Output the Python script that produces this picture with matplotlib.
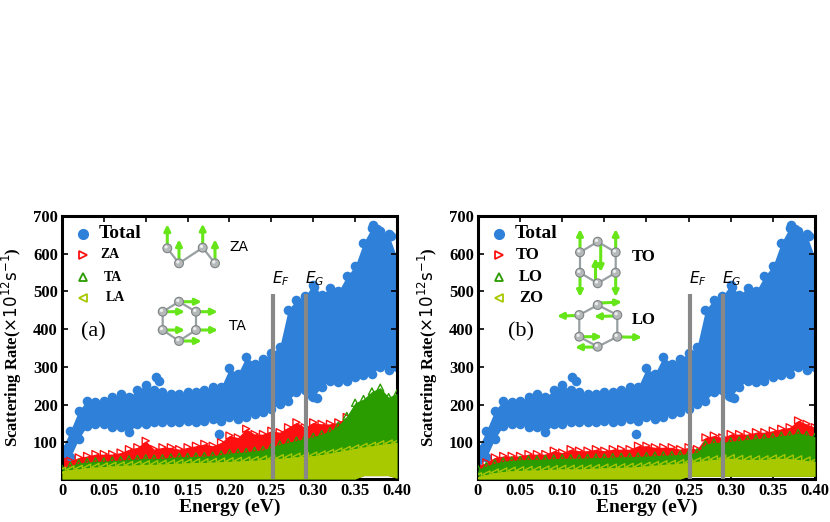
import matplotlib
matplotlib.use("Agg")
import matplotlib.pyplot as plt
from matplotlib.patches import Circle
import numpy as np

plt.rcParams['font.family'] = ['Liberation Serif', 'DejaVu Serif']
plt.rcParams['mathtext.fontset'] = 'custom'
plt.rcParams['mathtext.rm'] = 'DejaVu Sans:normal'
plt.rcParams['mathtext.it'] = 'DejaVu Sans:italic:normal'
plt.rcParams['mathtext.bf'] = 'DejaVu Sans:bold'

energy = np.round(np.arange(0, 0.401, 0.01), 2)

# total scattering rate: upper / lower edge of the cloud (same in both panels)
total_hi = [82, 131, 184, 211, 207, 211, 220, 229, 220, 238, 251, 238, 233, 229, 229, 233, 233, 238, 247, 247,
            296, 282, 327, 309, 322, 336, 353, 451, 478, 487, 518, 491, 509, 500, 540, 567, 629, 669, 660, 651, 589]
total_lo = [33, 60, 109, 144, 149, 149, 140, 140, 127, 149, 149, 153, 153, 153, 153, 158, 153, 158, 162, 158,
            167, 162, 167, 176, 180, 189, 202, 211, 233, 238, 220, 247, 264, 260, 264, 273, 278, 282, 300, 291, 300]
total_out_x = [0.112, 0.116, 0.188, 0.298, 0.304, 0.301, 0.371, 0.376, 0.393]
total_out_y = [273, 262, 123, 222, 218, 512, 675, 665, 648]

# panel (a): acoustic modes
za_hi = [56, 51, 60, 64, 69, 69, 69, 73, 82, 87, 104, 82, 87, 87, 82, 87, 91, 96, 91, 100,
         118, 113, 136, 122, 122, 131, 127, 140, 153, 140, 153, 149, 149, 153, 167, 158, 176, 176, 167, 162, 158]
ta_hi = [30, 38, 45, 48, 50, 50, 52, 53, 55, 56, 58, 57, 58, 60, 62, 62, 63, 64, 65, 68,
         72, 73, 75, 78, 80, 88, 95, 100, 105, 110, 115, 122, 130, 145, 170, 205, 215, 235, 245, 220, 230]
la_hi = [25, 28, 30, 33, 35, 36, 38, 39, 40, 41, 42, 42, 43, 44, 45, 46, 47, 47, 48, 49,
         50, 51, 52, 53, 55, 56, 58, 60, 62, 63, 65, 68, 72, 76, 80, 84, 88, 91, 95, 97, 100]
floor_a = [3] * 36 + [12, 12, 12, 12, 5]

# panel (b): optical modes
to_hi = [38, 47, 60, 64, 64, 64, 69, 69, 69, 78, 73, 82, 78, 78, 82, 78, 82, 82, 82, 91,
         91, 87, 87, 87, 82, 87, 82, 113, 118, 113, 122, 122, 122, 127, 127, 131, 136, 140, 158, 149, 140]
lo_hi = [29, 38, 45, 50, 52, 54, 55, 55, 56, 57, 58, 58, 58, 59, 60, 60, 61, 62, 62, 63,
         64, 65, 66, 67, 68, 70, 74, 95, 100, 100, 103, 105, 108, 110, 112, 114, 118, 120, 125, 120, 115]
zo_hi = [10, 15, 20, 23, 25, 26, 27, 27, 28, 29, 30, 30, 30, 31, 32, 33, 33, 34, 35, 36,
         38, 40, 42, 43, 45, 47, 50, 53, 55, 57, 58, 56, 55, 55, 55, 57, 58, 57, 55, 52, 50]
floor_b = [3] * 25 + [10] * 16

e_fermi = 0.252
e_gap = 0.291
line_top = 493

BLUE = '#2e80d8'
RED = '#ff1010'
GREEN = '#2a9c00'
YELLOW = '#a8c800'
ARROW = '#66e619'

fig = plt.figure(figsize=(8.3, 5.22), dpi=100)
ax_a = fig.add_axes([0.0747, 0.0824, 0.4036, 0.5038])
ax_b = fig.add_axes([0.5759, 0.0824, 0.406, 0.5038])

markers = ['>', '^', '<']
colors = [RED, GREEN, YELLOW]


def draw_panel(ax, series, floor):
    ax.fill_between(energy, total_lo, total_hi, color=BLUE, lw=0, zorder=1)
    ax.scatter(energy, total_hi, s=48, color=BLUE, lw=0, zorder=1)
    ax.scatter(energy, total_lo, s=48, color=BLUE, lw=0, zorder=1)
    ax.scatter(total_out_x, total_out_y, s=48, color=BLUE, lw=0, zorder=1)
    for k, (hi, m, c) in enumerate(zip(series, markers, colors)):
        ax.fill_between(energy, floor, hi, color=c, lw=0, zorder=2 + k)
        ax.scatter(energy, hi, s=26, marker=m, facecolors='none', edgecolors=c, lw=1, zorder=2 + k)

    ax.vlines([e_fermi, e_gap], 0, line_top, color='#888888', lw=3, zorder=6)
    ax.text(e_fermi - 0.001, 510, '$E_F$', fontsize=11, ha='left', va='bottom')
    ax.text(e_gap - 0.001, 510, '$E_G$', fontsize=11, ha='left', va='bottom')

    ax.set_xlim(0, 0.40)
    ax.set_ylim(3, 700)
    ax.set_xticks(np.arange(0, 0.41, 0.05))
    ax.set_xticklabels(['0'] + ['%.2f' % v for v in np.arange(0.05, 0.41, 0.05)])
    ax.set_yticks(range(100, 701, 100))
    ax.tick_params(direction='in', top=True, right=True, length=4, width=1.2, labelsize=12, pad=3)
    for lab in ax.get_xticklabels() + ax.get_yticklabels():
        lab.set_fontweight('bold')
    for sp in ax.spines.values():
        sp.set_linewidth(2.2)
    ax.set_xlabel('Energy (eV)', fontsize=14, fontweight='bold', labelpad=0)
    ax.set_ylabel(r'Scattering Rate($\times10^{12}\mathrm{s}^{-1}$)', fontsize=12, fontweight='bold')
    ax.yaxis.set_label_coords(-0.112, 0.5)

    # hand-made legend
    tr = ax.transAxes
    ax.plot([0.063], [0.932], 'o', ms=7, color=BLUE, transform=tr, zorder=7)
    ax.text(0.11, 0.932, 'Total', fontsize=14, fontweight='bold', va='center', transform=tr)
    for m, c, y in zip(markers, colors, [0.853, 0.768, 0.69]):
        ax.plot([0.063], [y], m, ms=5.5, mfc='none', mec=c, mew=1.3, transform=tr, zorder=7)


draw_panel(ax_a, [za_hi, ta_hi, la_hi], floor_a)
draw_panel(ax_b, [to_hi, lo_hi, zo_hi], floor_b)

for ax, labs, xs, fs in [(ax_a, ['ZA', 'TA', 'LA'], [0.115, 0.125, 0.13], 10),
                         (ax_b, ['TO', 'LO', 'ZO'], [0.113, 0.12, 0.123], 12)]:
    for lab, x, y in zip(labs, xs, [0.853, 0.768, 0.69]):
        ax.text(x, y, lab, fontsize=fs, fontweight='bold', va='center', transform=ax.transAxes)
ax_a.text(0.058, 0.56, '(a)', fontsize=16, va='center', transform=ax_a.transAxes)
ax_b.text(0.088, 0.56, '(b)', fontsize=16, va='center', transform=ax_b.transAxes)

# structure sketches, drawn in figure pixels
ov = fig.add_axes([0, 0, 1, 1], zorder=10)
ov.set_xlim(0, 830)
ov.set_ylim(522, 0)
ov.axis('off')
ov.patch.set_alpha(0)


def arrow(x0, y0, x1, y1):
    ov.annotate('', xy=(x1, y1), xytext=(x0, y0),
                arrowprops=dict(arrowstyle='-|>', color=ARROW, lw=2.2, mutation_scale=9, shrinkA=0, shrinkB=0))


def atoms(pts):
    for x, y in pts:
        ov.add_patch(Circle((x, y), 4.4, fc='#b5b9ba', ec='#7d8283', lw=0.8, zorder=5))
        ov.add_patch(Circle((x - 1.2, y - 1.3), 1.6, fc='#eef0f0', ec='none', zorder=6))


def bonds(pts, closed=False):
    p = pts + ([pts[0]] if closed else [])
    ov.plot([q[0] for q in p], [q[1] for q in p], color='#98a0a2', lw=1.6, zorder=4)


# ZA chain
za = [(167.3, 248.3), (179, 263.3), (202.7, 247.7), (215, 263.3)]
bonds(za)
for x, y in za:
    arrow(x, y, x, y - 24)
atoms(za)
ov.text(229, 247, 'ZA', family='DejaVu Sans', fontsize=10, va='center')

# TA ring
ta = [(179, 301.7), (196, 311.7), (196, 330), (179, 341), (162.7, 330), (162.7, 311.7)]
bonds(ta, closed=True)
for (x, y), x1 in zip(ta, [201.7, 217.7, 218, 201.7, 185, 185]):
    arrow(x + 3, y, x1, y)
atoms(ta)
ov.text(229, 326, 'TA', family='DejaVu Sans', fontsize=10, va='center')

# TO ring
to = [(597.7, 241.7), (615.7, 252.3), (615.7, 272.7), (597.7, 283.3), (580, 272.7), (580, 252.3)]
bonds(to, closed=True)
arrow(580, 252.3, 580, 229)
arrow(615.7, 252.3, 615.7, 229)
arrow(580, 272.7, 580, 297)
arrow(615.7, 272.7, 615.7, 297)
arrow(600.7, 244, 600.7, 272)
arrow(595.5, 281, 595.5, 258)
atoms(to)
ov.text(632, 256.7, 'TO', fontsize=12, fontweight='bold', va='center')

# LO ring
lo = [(597.7, 305), (617.3, 315), (617.3, 336.7), (597.7, 346.7), (579.3, 336.7), (579.3, 315)]
bonds(lo, closed=True)
arrow(600, 303, 622, 302)
arrow(579.3, 315.5, 557, 316)
arrow(615, 316, 594, 316.5)
arrow(580, 336.7, 602, 336.7)
arrow(617.3, 336.9, 642, 337.3)
arrow(597, 347, 575, 347.3)
atoms(lo)
ov.text(632, 319.5, 'LO', fontsize=12, fontweight='bold', va='center')

fig.savefig('out.png', dpi=100)
